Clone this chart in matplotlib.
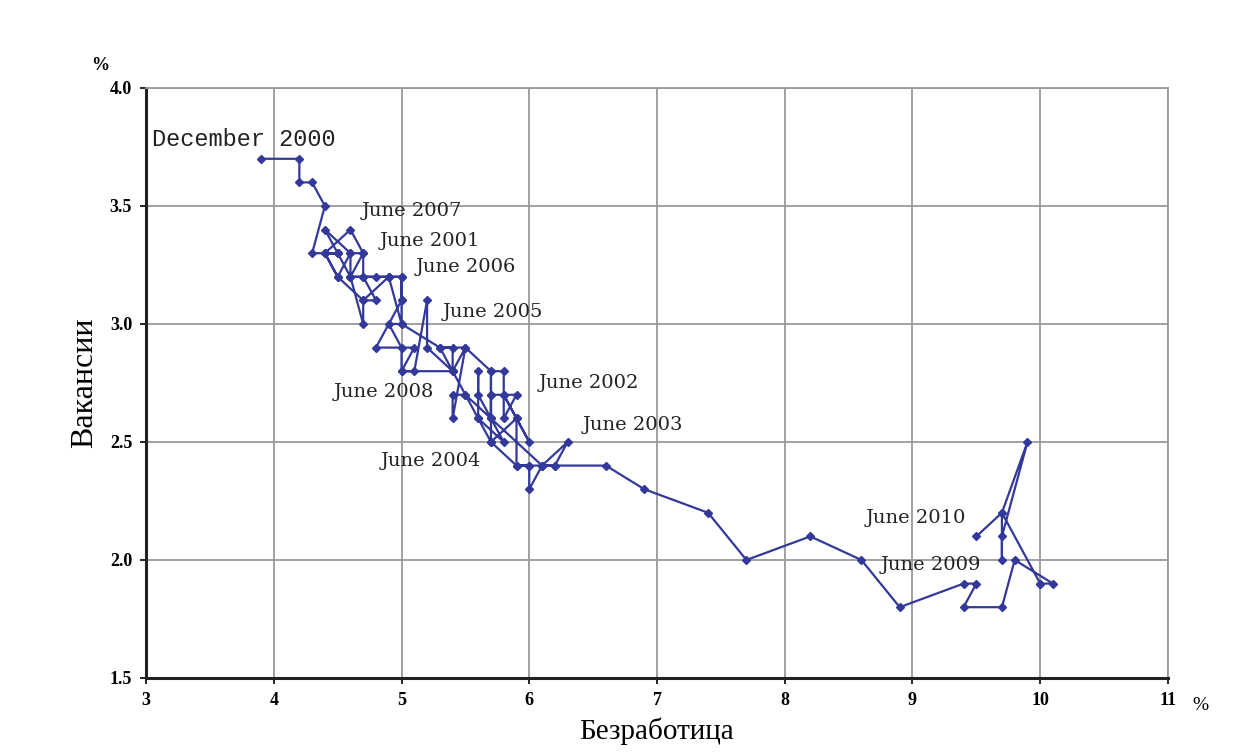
import matplotlib
matplotlib.use('Agg')
import matplotlib.pyplot as plt

# monthly path, December 2000 - June 2010
unemployment = [
    3.9,
    4.2, 4.2, 4.3, 4.4, 4.3, 4.5, 4.6, 4.9, 5.0, 5.3, 5.5, 5.7,
    5.7, 5.7, 5.7, 5.9, 5.8, 5.8, 5.8, 5.7, 5.7, 5.7, 5.9, 6.0,
    5.8, 5.9, 5.9, 6.0, 6.1, 6.3, 6.2, 6.1, 6.0, 6.0, 5.9, 5.7,
    5.7, 5.6, 5.8, 5.6, 5.6, 5.6, 5.5, 5.4, 5.4, 5.5, 5.4, 5.4,
    5.3, 5.4, 5.2, 5.2, 5.1, 5.0, 5.0, 4.9, 5.0, 5.0, 5.0, 4.9,
    4.7, 4.8, 4.7, 4.7, 4.6, 4.6, 4.7, 4.7, 4.5, 4.4, 4.5, 4.4,
    4.6, 4.5, 4.4, 4.5, 4.4, 4.6, 4.7, 4.6, 4.7, 4.8, 4.9, 5.0,
    5.0, 4.8, 5.1, 5.0, 5.4, 5.5, 5.7, 6.1, 6.2, 6.6, 6.9, 7.4,
    7.7, 8.2, 8.6, 8.9, 9.4, 9.5, 9.4, 9.7, 9.8, 10.1, 10.0, 10.0,
    9.7, 9.7, 9.7, 9.9, 9.7, 9.5,
]
vacancies = [
    3.7,
    3.7, 3.6, 3.6, 3.5, 3.3, 3.3, 3.2, 3.2, 3.0, 2.9, 2.9, 2.8,
    2.7, 2.6, 2.7, 2.7, 2.6, 2.7, 2.8, 2.8, 2.6, 2.5, 2.6, 2.5,
    2.7, 2.6, 2.4, 2.4, 2.4, 2.5, 2.4, 2.4, 2.3, 2.4, 2.4, 2.5,
    2.5, 2.6, 2.5, 2.7, 2.8, 2.6, 2.7, 2.7, 2.6, 2.9, 2.8, 2.9,
    2.9, 2.8, 2.9, 3.1, 2.8, 2.8, 2.9, 3.0, 3.0, 3.1, 3.2, 3.2,
    3.1, 3.1, 3.2, 3.3, 3.3, 3.2, 3.0, 3.1, 3.2, 3.3, 3.3, 3.4,
    3.3, 3.2, 3.3, 3.3, 3.3, 3.4, 3.3, 3.2, 3.2, 3.2, 3.2, 3.2,
    3.1, 2.9, 2.9, 2.8, 2.8, 2.7, 2.6, 2.4, 2.4, 2.4, 2.3, 2.2,
    2.0, 2.1, 2.0, 1.8, 1.9, 1.9, 1.8, 1.8, 2.0, 1.9, 1.9, 1.9,
    2.2, 2.0, 2.1, 2.5, 2.2, 2.1,
]

# annotations
labels = ['December 2000', 'June 2007', 'June 2001', 'June 2006', 'June 2005',
          'June 2008', 'June 2002', 'June 2003', 'June 2004', 'June 2010', 'June 2009']
label_x = [3.05, 4.69, 4.83, 5.11, 5.32, 4.47, 6.07, 6.42, 4.84, 8.63, 8.75]
label_y = [3.78, 3.48, 3.35, 3.24, 3.05, 2.71, 2.75, 2.57, 2.42, 2.18, 1.98]

xticks = [3, 4, 5, 6, 7, 8, 9, 10, 11]
yticks = [1.5, 2.0, 2.5, 3.0, 3.5, 4.0]

serif = 'Liberation Serif'
blue = '#33399a'

fig = plt.figure(figsize=(12.42, 7.56), dpi=100)
ax = fig.add_axes([0.1176, 0.1032, 0.8228, 0.7804])

ax.plot(unemployment, vacancies, color=blue, lw=1.6, marker='D', ms=4,
        mec=blue, mfc=blue, zorder=3)

for t, x, y in zip(labels, label_x, label_y):
    if t.startswith('December'):
        ax.text(x, y, t, fontsize=17, family='Liberation Mono',
                color='#222222', va='center', ha='left')
    else:
        ax.text(x, y, t, fontsize=14, family='DejaVu Serif', color='#222222',
                va='center', ha='left')

ax.set_xlim(3, 11)
ax.set_ylim(1.5, 4.0)
ax.set_xticks(xticks)
ax.set_yticks(yticks)
ax.set_xticklabels([str(v) for v in xticks], family=serif, fontweight='bold', fontsize=13)
ax.set_yticklabels(['%.1f' % v for v in yticks], family=serif, fontweight='bold', fontsize=13)
ax.tick_params(direction='out', length=4, width=1.2, pad=6)
ax.grid(True, color='#9a9a9a', lw=1.3)
ax.set_axisbelow(True)

for s in ['top', 'right']:
    ax.spines[s].set_color('#9a9a9a')
    ax.spines[s].set_linewidth(1.3)
for s in ['left', 'bottom']:
    ax.spines[s].set_color('#222222')
    ax.spines[s].set_linewidth(2.2)

ax.set_xlabel('Безработица', family=serif, fontsize=21, labelpad=6)
ax.set_ylabel('Вакансии', family=serif, fontsize=23, labelpad=8)

fig.text(1200 / 1242, 1 - 705 / 756, '%', family=serif, fontsize=14, ha='center', va='center')
fig.text(100 / 1242, 1 - 66 / 756, '%', family=serif, fontsize=13, fontweight='bold',
         ha='center', va='center')

fig.savefig('out.png', dpi=100, facecolor='white')
